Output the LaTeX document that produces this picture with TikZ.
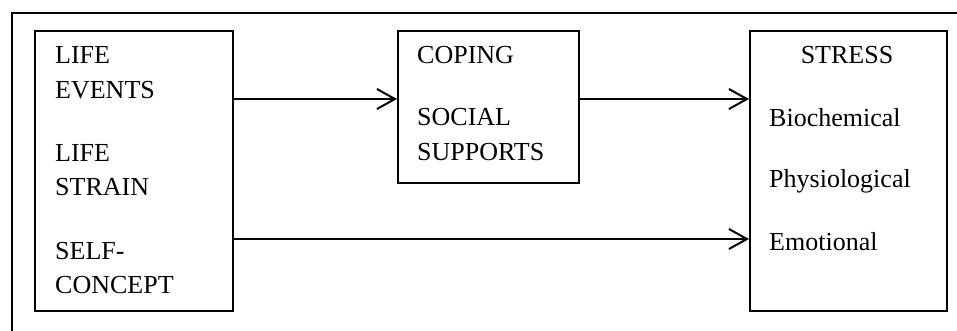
\documentclass[tikz,border=0pt]{standalone}
\usepackage{fontspec}
\setmainfont{Liberation Serif}
\usetikzlibrary{arrows.meta}
\begin{document}
\begin{tikzpicture}[x=1pt,y=-1pt,
  box/.style={draw, line width=1.5pt, inner sep=0pt, anchor=north west},
  label/.style={anchor=base west, inner sep=0pt, font=\fontsize{26}{30}\selectfont},
  flow/.style={line width=2pt, -{Straight Barb[length=18pt,width=20pt,line width=2pt]}}]
  \useasboundingbox (0,0) rectangle (957,330);
  % frame (open on the right and at the bottom)
  \draw[line width=2pt] (12,340) -- (12,13) -- (970,13);
  % boxes
  \node[box, minimum width=198pt, minimum height=280pt] (L) at (34,30) {};
  \node[box, minimum width=181pt, minimum height=152pt] (M) at (397,30) {};
  \node[box, minimum width=197pt, minimum height=280pt] (R) at (749,30) {};
  % left box text
  \node[label] (l1) at (55,63)  {LIFE};
  \node[label] (l2) at (55,98)  {EVENTS};
  \node[label] (l3) at (55,161) {LIFE};
  \node[label] (l4) at (55,195) {STRAIN};
  \node[label] (l5) at (55,259) {SELF-};
  \node[label] (l6) at (55,293) {CONCEPT};
  % middle box text
  \node[label] (m1) at (417,63)  {COPING};
  \node[label] (m2) at (417,125) {SOCIAL};
  \node[label] (m3) at (417,160) {SUPPORTS};
  % right box text
  \node[label, anchor=base] (r1) at (847,63) {STRESS};
  \node[label] (r2) at (769,126) {Biochemical};
  \node[label] (r3) at (769,187) {Physiological};
  \node[label] (r4) at (769,250) {Emotional};
  % connectors
  \coordinate (upper) at (0,99);
  \coordinate (lower) at (0,239);
  \draw[flow] (L.east |- upper) -- (M.west |- upper);
  \draw[flow] (M.east |- upper) -- (R.west |- upper);
  \draw[flow] (L.east |- lower) -- (R.west |- lower);
\end{tikzpicture}
\end{document}
